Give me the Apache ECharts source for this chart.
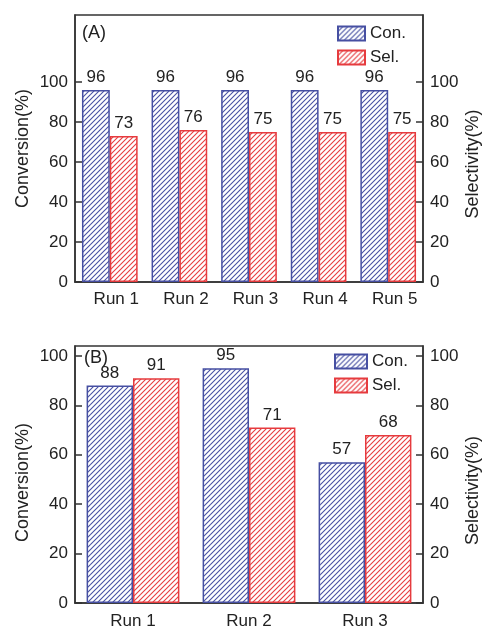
<!DOCTYPE html>
<html>
<head>
<meta charset="utf-8">
<script src="https://cdn.jsdelivr.net/npm/echarts@6/dist/echarts.min.js"></script>
<style>
html,body{margin:0;padding:0;background:#fff;}
#main{width:484px;height:630px;}
</style>
</head>
<body>
<div id="main"></div>
<script>
// ---- data ----
const categoriesA = ['Run 1', 'Run 2', 'Run 3', 'Run 4', 'Run 5'];
const conversionA = [96, 96, 96, 96, 96];
const selectivityA = [73, 76, 75, 75, 75];
const categoriesB = ['Run 1', 'Run 2', 'Run 3'];
const conversionB = [88, 95, 57];
const selectivityB = [91, 71, 68];
const yTickValues = [0, 20, 40, 60, 80, 100];
const seriesNames = ['Con.', 'Sel.'];
const panelLabels = ['(A)', '(B)'];
const axisNames = ['Conversion(%)', 'Selectivity(%)'];

// ---- style ----
const FONT = "'Liberation Sans', Arial, Helvetica, sans-serif";
const BLUE = '#464fa2';
const RED = '#e63b3e';
const AXIS = '#333';

function hatch(color) {
  const s = 10;
  const c = document.createElement('canvas');
  c.width = s; c.height = s;
  const ctx = c.getContext('2d');
  ctx.fillStyle = '#fff';
  ctx.fillRect(0, 0, s, s);
  ctx.strokeStyle = color;
  ctx.lineWidth = 1.1;
  [0, 5, 10, 15, 20].forEach(function (k) {
    ctx.beginPath();
    ctx.moveTo(-1, k + 1);
    ctx.lineTo(k + 1, -1);
    ctx.stroke();
  });
  return c;
}
const blueFill = { image: hatch(BLUE), repeat: 'repeat' };
const redFill = { image: hatch(RED), repeat: 'repeat' };

const chart = echarts.init(document.getElementById('main'), null, { renderer: 'canvas' });

function yAx(gridIndex, max, pos, name, padRight) {
  return {
    type: 'value', gridIndex: gridIndex, position: pos, min: 0, max: max, interval: 20,
    name: name, nameLocation: 'middle', nameGap: pos === 'left' ? 43 : 41,
    nameMoveOverlap: false,
    nameTextStyle: { fontFamily: FONT, fontSize: 18, color: '#222', padding: [0, padRight, 0, 0] },
    axisLine: { show: true, lineStyle: { color: AXIS, width: 1.5 } },
    axisTick: { show: true, inside: true, length: 7, lineStyle: { color: AXIS, width: 1.5 }, customValues: yTickValues },
    axisLabel: { fontFamily: FONT, fontSize: 17, color: '#222', margin: 7, customValues: yTickValues },
    splitLine: { show: false }
  };
}

function xAx(gridIndex, cats, padLeft, margin) {
  return {
    type: 'category', gridIndex: gridIndex, data: cats,
    axisLine: { show: true, lineStyle: { color: AXIS, width: 1.5 } },
    axisTick: { show: false },
    axisLabel: { fontFamily: FONT, fontSize: 17, color: '#222', margin: margin, padding: [0, 0, 0, padLeft] },
    splitLine: { show: false }
  };
}

function barSeries(name, data, xi, yi, fill, stroke) {
  return {
    type: 'bar', name: name, data: data, xAxisIndex: xi, yAxisIndex: yi,
    barGap: '0%', barCategoryGap: '20%',
    itemStyle: { color: fill, borderColor: stroke, borderWidth: 1.5 },
    label: { show: true, position: 'top', distance: 4, fontFamily: FONT, fontSize: 17, color: '#222' },
    emphasis: { disabled: true }
  };
}

const legendBase = {
  orient: 'vertical', itemGap: 7, data: seriesNames, icon: 'rect',
  textStyle: { fontFamily: FONT, fontSize: 17, color: '#222' }, padding: 0,
  selectedMode: false
};

chart.setOption({
  animation: false,
  backgroundColor: '#fff',
  title: [
    { text: panelLabels[0], left: 82, top: 24, padding: 0, textStyle: { fontFamily: FONT, fontSize: 18, fontWeight: 'normal', color: '#222' } },
    { text: panelLabels[1], left: 84, top: 349, padding: 0, textStyle: { fontFamily: FONT, fontSize: 18, fontWeight: 'normal', color: '#222' } }
  ],
  legend: [
    Object.assign({}, legendBase, { left: 337, top: 25, itemWidth: 27, itemHeight: 14 }),
    Object.assign({}, legendBase, { left: 334, top: 353, itemWidth: 32, itemHeight: 14 })
  ],
  grid: [
    { left: 75, width: 348, top: 15, height: 267, show: true, borderColor: AXIS, borderWidth: 1.5, backgroundColor: 'transparent', outerBoundsMode: 'none', containLabel: false },
    { left: 75, width: 348, top: 346, height: 257, show: true, borderColor: AXIS, borderWidth: 1.5, backgroundColor: 'transparent', outerBoundsMode: 'none', containLabel: false }
  ],
  xAxis: [
    xAx(0, categoriesA, 13, 9),
    xAx(1, categoriesB, 0, 10)
  ],
  yAxis: [
    yAx(0, 133.5, 'left', axisNames[0], 0),
    yAx(0, 133.5, 'right', axisNames[1], 31),
    yAx(1, 104, 'left', axisNames[0], 16),
    yAx(1, 104, 'right', axisNames[1], 32)
  ],
  series: [
    barSeries(seriesNames[0], conversionA, 0, 0, blueFill, BLUE),
    barSeries(seriesNames[1], selectivityA, 0, 1, redFill, RED),
    barSeries(seriesNames[0], conversionB, 1, 2, blueFill, BLUE),
    barSeries(seriesNames[1], selectivityB, 1, 3, redFill, RED)
  ]
});
</script>
</body>
</html>
